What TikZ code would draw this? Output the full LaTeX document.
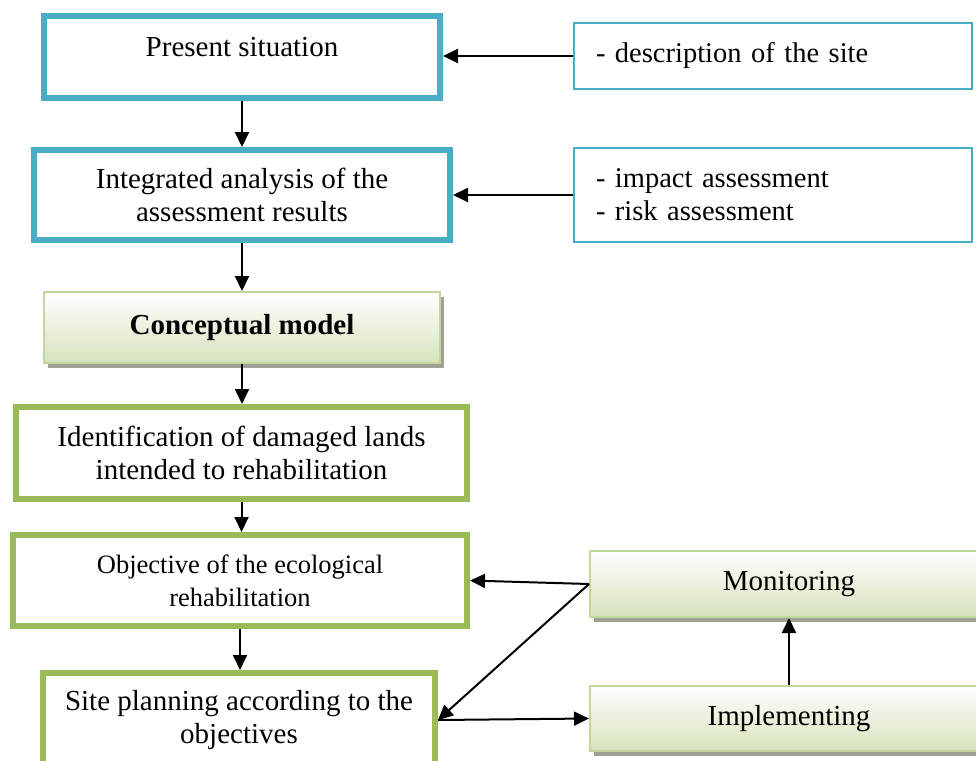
\documentclass[tikz,border=0pt]{standalone}
\usepackage{fontspec}
\setmainfont{Liberation Serif}
\usepackage{tikz}
\usetikzlibrary{arrows.meta,
                shadows}

\definecolor{stageblue}{RGB}{75,172,198}
\definecolor{stagegreen}{RGB}{155,187,89}
\definecolor{shadeborder}{RGB}{195,214,155}
\definecolor{shadegreen}{RGB}{214,227,188}
\definecolor{shadowgray}{RGB}{160,160,150}

\tikzset{stage-blue/.style =
   {rectangle,
    draw=stageblue,
    line width=6pt,
    fill=white,
    align=center,
    font=\fontsize{29}{33}\selectfont}}
\tikzset{stage-green/.style =
   {rectangle,
    draw=stagegreen,
    line width=6pt,
    fill=white,
    align=center,
    font=\fontsize{29}{33}\selectfont}}
\tikzset{stage-shaded/.style =
   {rectangle,
    draw=shadeborder,
    line width=2pt,
    top color=white,
    bottom color=shadegreen,
    general shadow={fill=shadowgray, shadow xshift=4pt, shadow yshift=-5pt},
    align=center,
    font=\fontsize{29}{33}\selectfont}}
\tikzset{note/.style =
   {rectangle,
    draw=stageblue,
    line width=1.5pt,
    fill=white,
    inner xsep=22pt,
    text width=354pt,
    align=left,
    font=\fontsize{28.5}{33}\selectfont}}
\tikzset{arrow/.style = {draw, line width=2pt, -{Triangle[length=15pt, width=14pt]}}}

\begin{document}
\begin{tikzpicture}[x=1pt, y=-1pt]

    \useasboundingbox (0,0) rectangle (976,760);
    \clip (0,0) rectangle (976,760);

    % left column
    \node [stage-blue, minimum width=396pt, minimum height=82pt,
           text depth=20pt] (present) at (242,57)
    {Present situation};
    \node [stage-blue, minimum width=416pt, minimum height=90pt] (analysis) at (242,195)
    {Integrated analysis of the\\ assessment results};
    \node [stage-shaded, minimum width=396pt, minimum height=71pt] (model) at (242,327.5)
    {\bfseries Conceptual model};
    \node [stage-green, minimum width=451pt, minimum height=92pt] (lands) at (241.5,453)
    {Identification of damaged lands\\ intended to rehabilitation};
    \node [stage-green, minimum width=454pt, minimum height=91pt,
           font=\fontsize{26.5}{33}\selectfont] (objective) at (240,580.5)
    {Objective of the ecological\\ rehabilitation};
    \node [stage-green, minimum width=392pt, minimum height=94pt] (planning) at (239,720)
    {Site planning according to the\\ objectives};

    % right column
    \node [note, minimum height=66pt] (site) at (773,56)
    {- description of the site};
    \node [note, minimum height=94pt] (assess) at (773,195)
    {- impact assessment\\ - risk assessment};
    \node [stage-shaded, minimum width=398pt, minimum height=66pt] (monitor) at (789,584)
    {Monitoring};
    \node [stage-shaded, minimum width=398pt, minimum height=65pt] (implement) at (789,718.5)
    {Implementing};

    % flow
    \path [arrow] (site.west) -- (site.west -| present.east);
    \path [arrow] (assess.west) -- (assess.west -| analysis.east);
    \path [arrow] (present.south) -- (present.south |- analysis.north);
    \path [arrow] (analysis.south) -- (analysis.south |- model.north);
    \path [arrow] (model.south) -- (model.south |- lands.north);
    \path [arrow] (lands.south) -- (lands.south |- objective.north);
    \path [arrow] (objective.south) -- (objective.south |- planning.north);

    % feedback loop
    \path [arrow] (monitor.west) -- (objective.east);
    \path [arrow] (monitor.west) -- (planning.east);
    \path [arrow] (planning.east) -- (implement.west);
    \path [arrow] (implement.north) -- (monitor.south);

\end{tikzpicture}
\end{document}
